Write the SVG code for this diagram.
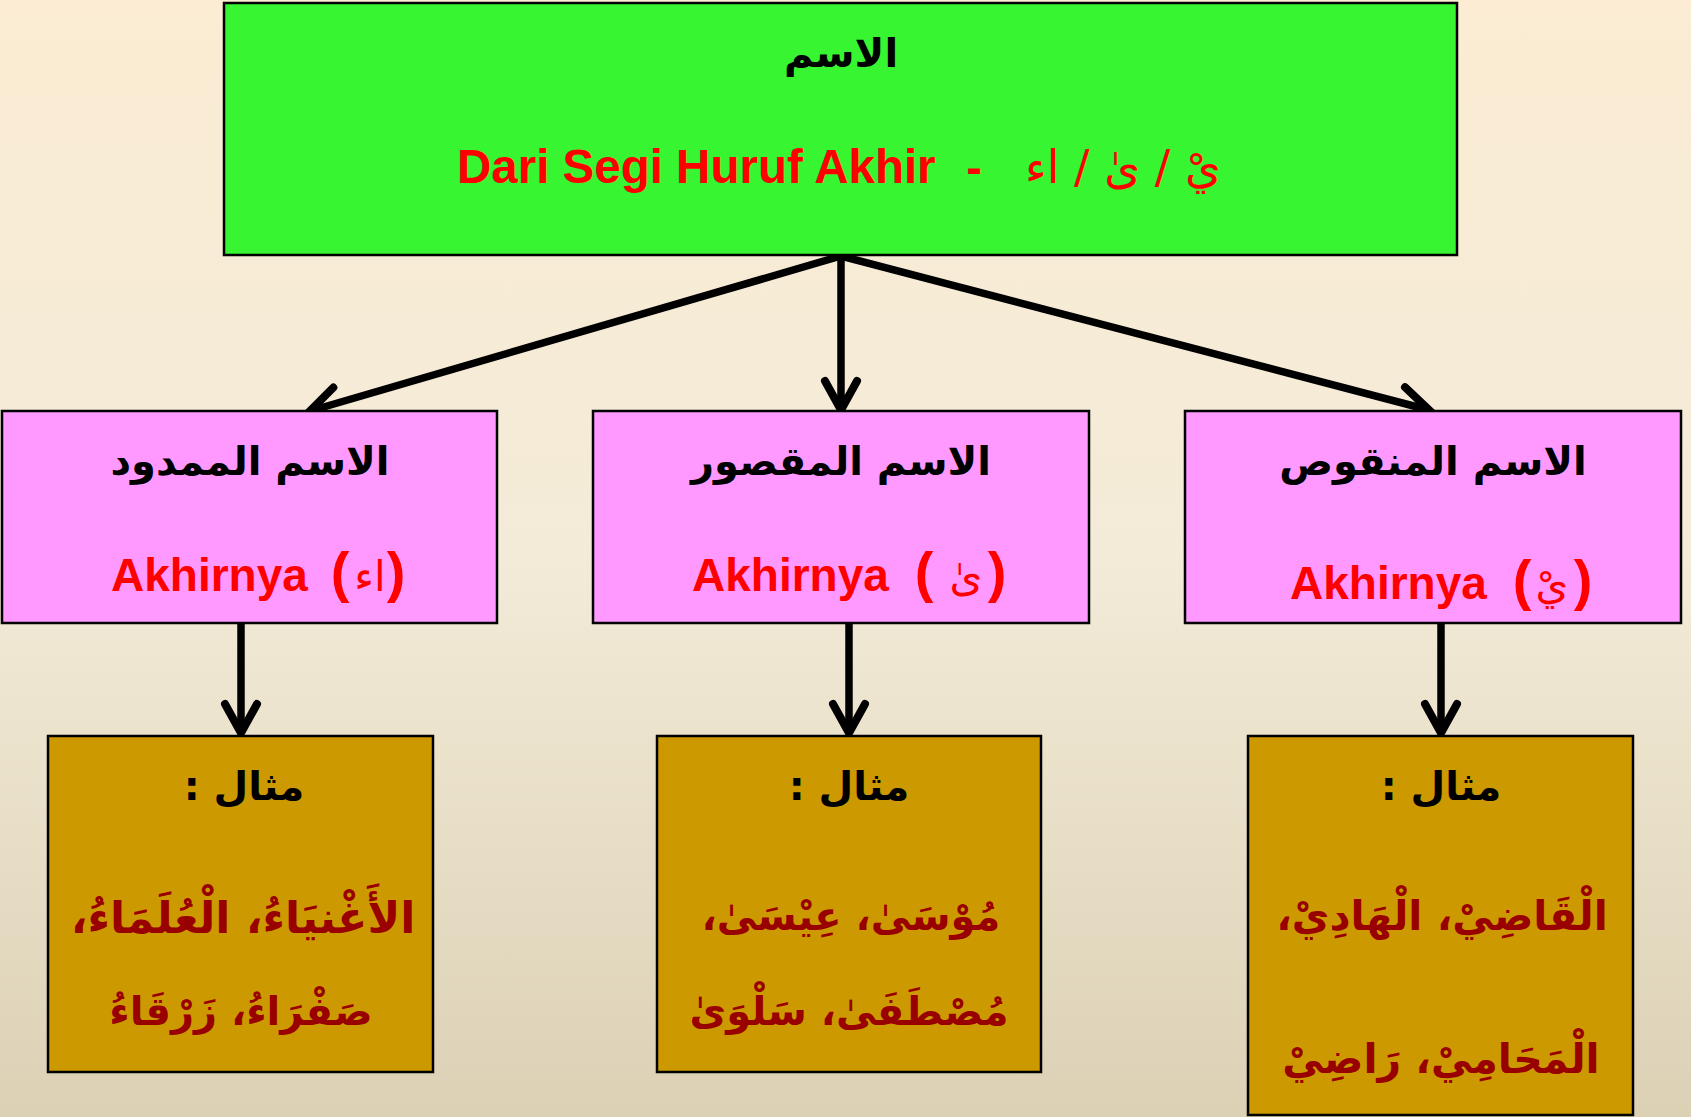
<svg xmlns="http://www.w3.org/2000/svg" width="1691" height="1117" viewBox="0 0 1691 1117">
<defs>
<linearGradient id="bg" x1="0" y1="0" x2="0" y2="1">
<stop offset="0" stop-color="#FBECD3"/>
<stop offset="0.5" stop-color="#F3EBD8"/>
<stop offset="1" stop-color="#DCD1B5"/>
</linearGradient>
<marker id="arr" markerUnits="userSpaceOnUse" markerWidth="60" markerHeight="60" viewBox="-40 -30 60 60" refX="0" refY="0" orient="auto" overflow="visible">
<path d="M-29,-16 L0,0 L-29,16" fill="none" stroke="#000" stroke-width="8" stroke-linecap="round" stroke-linejoin="miter"/>
</marker>
<style>
.box{stroke:#000;stroke-width:2.5}
.green{fill:#38F531}
.pink{fill:#FF99FF}
.gold{fill:#CC9900}
.ar{font-family:"DejaVu Sans",sans-serif;text-anchor:middle;direction:rtl}
.hd{font-weight:bold;fill:#000;font-size:40px}
.en{font-family:"Liberation Sans",Arial,sans-serif;font-weight:bold;fill:#FF0000}
.red{fill:#FF0000}
.ex{font-weight:bold;fill:#990000}
.conn{stroke:#000;stroke-width:7.5;fill:none;marker-end:url(#arr)}
</style>
</defs>
<rect width="1691" height="1117" fill="url(#bg)"/>

<g id="connectors">
<line class="conn" x1="841" y1="256" x2="310" y2="411"/>
<line class="conn" x1="841" y1="256" x2="841" y2="410"/>
<line class="conn" x1="841" y1="256" x2="1429" y2="410"/>
<line class="conn" x1="241" y1="623" x2="241" y2="733"/>
<line class="conn" x1="849" y1="623" x2="849" y2="733"/>
<line class="conn" x1="1441" y1="623" x2="1441" y2="733"/>
</g>

<g id="node-root">
<rect class="box green" x="224" y="3" width="1233" height="252"/>
<text class="ar hd" x="841" y="67">الاسم</text>
<text class="en" x="457" y="183" font-size="47.5">Dari Segi Huruf Akhir</text>
<text class="en" x="974" y="183" font-size="47" text-anchor="middle">-</text>
<text class="ar red" x="1123" y="183" font-size="46">يْ / ىٰ / اء</text>
</g>

<g id="node-mamdud">
<rect class="box pink" x="2" y="411" width="495" height="212"/>
<text class="ar hd" x="250" y="475">الاسم الممدود</text>
<text class="en" x="111" y="591" font-size="46">Akhirnya</text>
<text class="en" x="340" y="591" font-size="56" text-anchor="middle">(</text>
<text class="ar red" x="370" y="591" font-size="42">اء</text>
<text class="en" x="396" y="591" font-size="56" text-anchor="middle">)</text>
</g>

<g id="node-maqsur">
<rect class="box pink" x="593" y="411" width="496" height="212"/>
<text class="ar hd" x="841" y="475">الاسم المقصور</text>
<text class="en" x="692" y="591" font-size="46">Akhirnya</text>
<text class="en" x="924" y="591" font-size="56" text-anchor="middle">(</text>
<text class="ar red" x="966" y="591" font-size="42">ىٰ</text>
<text class="en" x="997" y="591" font-size="56" text-anchor="middle">)</text>
</g>

<g id="node-manqus">
<rect class="box pink" x="1185" y="411" width="496" height="212"/>
<text class="ar hd" x="1433" y="475">الاسم المنقوص</text>
<text class="en" x="1290" y="599" font-size="46">Akhirnya</text>
<text class="en" x="1522" y="599" font-size="56" text-anchor="middle">(</text>
<text class="ar red" x="1552" y="599" font-size="42">يْ</text>
<text class="en" x="1583" y="599" font-size="56" text-anchor="middle">)</text>
</g>

<g id="node-ex-mamdud">
<rect class="box gold" x="48" y="736" width="385" height="336"/>
<text class="ar hd" x="244" y="800">مثال :</text>
<text class="ar ex" x="243" y="933" font-size="44">الأَغْنيَاءُ، الْعُلَمَاءُ،</text>
<text class="ar ex" x="241" y="1025" font-size="40">صَفْرَاءُ، زَرْقَاءُ</text>
</g>

<g id="node-ex-maqsur">
<rect class="box gold" x="657" y="736" width="384" height="336"/>
<text class="ar hd" x="849" y="800">مثال :</text>
<text class="ar ex" x="851" y="930" font-size="40">مُوْسَىٰ، عِيْسَىٰ،</text>
<text class="ar ex" x="849" y="1025" font-size="40">مُصْطَفَىٰ، سَلْوَىٰ</text>
</g>

<g id="node-ex-manqus">
<rect class="box gold" x="1248" y="736" width="385" height="379"/>
<text class="ar hd" x="1441" y="800">مثال :</text>
<text class="ar ex" x="1442" y="930" font-size="41">الْقَاضِيْ، الْهَادِيْ،</text>
<text class="ar ex" x="1441" y="1073" font-size="41">الْمَحَامِيْ، رَاضِيْ</text>
</g>
</svg>
